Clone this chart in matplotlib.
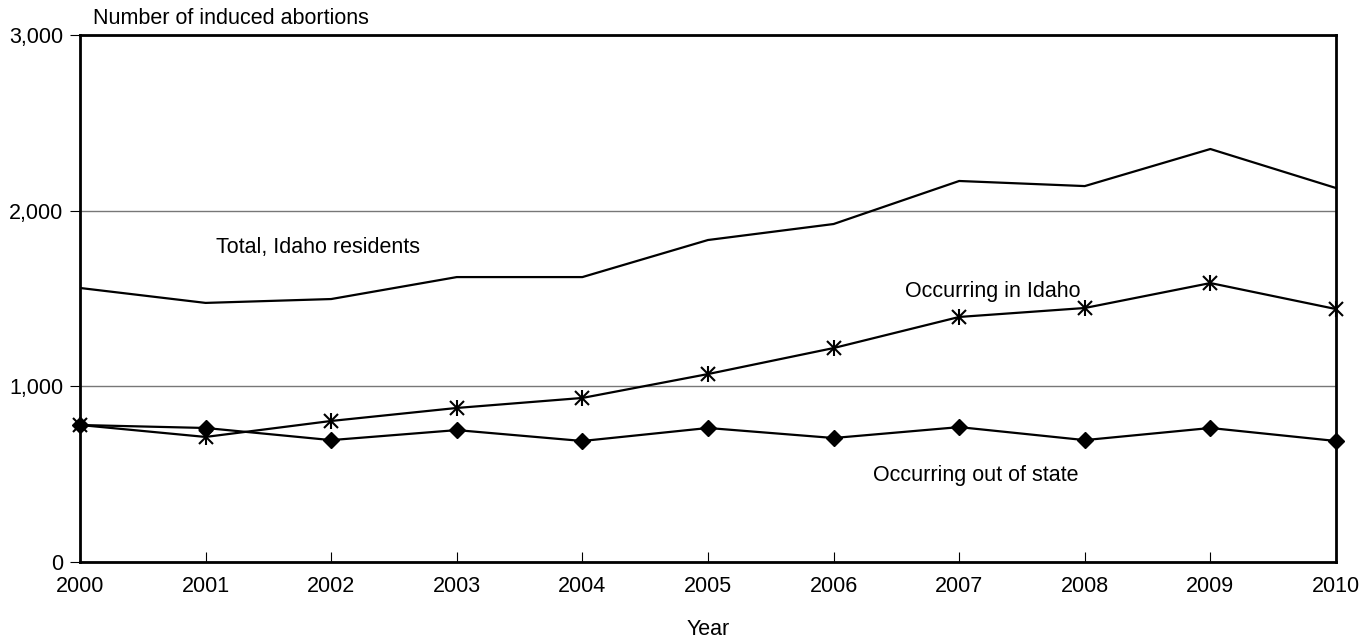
import matplotlib
matplotlib.use("Agg")
import matplotlib.pyplot as plt

plt.rcParams["font.family"] = ["Liberation Sans", "DejaVu Sans"]

years = [2000, 2001, 2002, 2003, 2004, 2005, 2006, 2007, 2008, 2009, 2010]
total_residents = [1560, 1475, 1497, 1622, 1622, 1833, 1924, 2169, 2140, 2351, 2129]
in_idaho = [780, 712, 803, 877, 934, 1070, 1218, 1395, 1446, 1588, 1440]
out_of_state = [780, 763, 694, 751, 689, 763, 706, 768, 694, 763, 689]

FS = 15.5

fig = plt.figure(figsize=(13.67, 6.41), dpi=100)
ax = fig.add_axes([0.0585, 0.1232, 0.9188, 0.8222])

ax.plot(years, total_residents, color="black", linewidth=1.6, zorder=3)
ax.plot(years, in_idaho, color="black", linewidth=1.6, zorder=3)
ax.plot(years, in_idaho, linestyle="none", marker="x", markersize=10,
        markeredgewidth=1.5, color="black", zorder=4, clip_on=False)
ax.plot(years, in_idaho, linestyle="none", marker="|", markersize=12,
        markeredgewidth=1.5, color="black", zorder=4, clip_on=False)
ax.plot(years, out_of_state, color="black", linewidth=1.6, marker="D",
        markersize=8.5, zorder=3, clip_on=False)

ax.set_xlim(2000, 2010)
ax.set_ylim(0, 3000)
ax.set_xticks(years)
ax.set_yticks([0, 1000, 2000, 3000])
ax.set_yticklabels(["0", "1,000", "2,000", "3,000"])
ax.tick_params(axis="x", direction="in", length=7, labelsize=FS, pad=10)
ax.tick_params(axis="y", direction="out", length=7, labelsize=FS, pad=5)
for s in ax.spines.values():
    s.set_linewidth(2)
    s.set_color("black")
ax.yaxis.grid(True, color="#777777", linewidth=1)
ax.set_axisbelow(True)

ax.set_xlabel("Year", fontsize=FS, labelpad=16)
ax.text(0.01, 1.012, "Number of induced abortions", transform=ax.transAxes,
        fontsize=FS, ha="left", va="bottom")

ax.text(2001.08, 1790, "Total, Idaho residents", fontsize=FS, va="center")
ax.text(2006.57, 1540, "Occurring in Idaho", fontsize=FS, va="center")
ax.text(2006.31, 490, "Occurring out of state", fontsize=FS, va="center")

fig.savefig("out.png", dpi=100)
